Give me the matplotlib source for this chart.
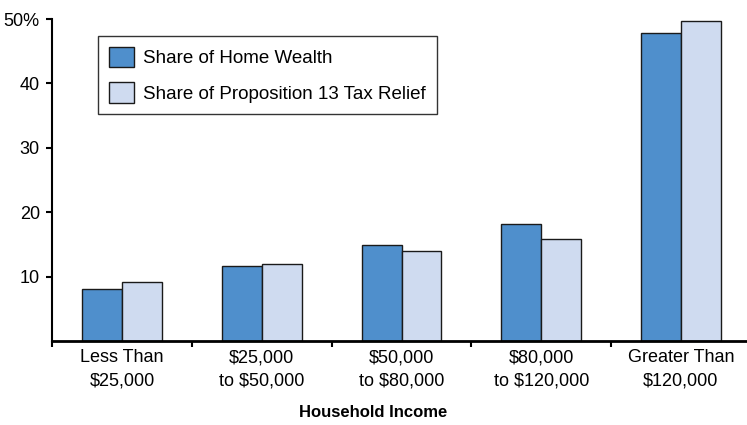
import matplotlib.pyplot as plt
import numpy as np

categories = ["Less Than\n$25,000", "$25,000\nto $50,000", "$50,000\nto $80,000",
              "$80,000\nto $120,000", "Greater Than\n$120,000"]
home_wealth = [8.1, 11.7, 14.9, 18.2, 47.8]
tax_relief = [9.2, 12.0, 13.9, 15.8, 49.7]
yticks = [10, 20, 30, 40, 50]
ytick_labels = ["10", "20", "30", "40", "50%"]

plt.rcParams["font.family"] = ["Liberation Sans", "DejaVu Sans"]

fig = plt.figure(figsize=(7.47, 4.25), dpi=100)
ax = fig.add_axes([0.07, 0.198, 0.935, 0.757])

x = np.arange(len(categories))
w = 0.285
ax.bar(x - w / 2, home_wealth, w, color="#4f8fcc", edgecolor="#1a1a1a",
       linewidth=1.0, label="Share of Home Wealth")
ax.bar(x + w / 2, tax_relief, w, color="#cfdbf0", edgecolor="#1a1a1a",
       linewidth=1.0, label="Share of Proposition 13 Tax Relief")

ax.set_xlim(-0.5, 4.5)
ax.set_ylim(0, 50)
ax.set_yticks(yticks)
ax.set_yticklabels(ytick_labels, fontsize=13)
ax.set_xticks(x)
ax.set_xticklabels(categories, fontsize=13, linespacing=1.45)
ax.tick_params(axis="x", length=0, pad=6)
ax.set_xticks(np.arange(len(categories)) - 0.5, minor=True)
ax.tick_params(axis="x", which="minor", length=4, width=1.5, direction="out")
ax.tick_params(axis="y", length=4, width=1.5, pad=5)

for s in ["top", "right"]:
    ax.spines[s].set_visible(False)
ax.spines["left"].set_linewidth(1.5)
ax.spines["bottom"].set_linewidth(2)

fig.text(0.5, 0.03, "Household Income", fontsize=12, fontweight="bold",
         ha="center", va="center")

leg = ax.legend(loc="upper left", bbox_to_anchor=(0.052, 0.978), fontsize=13.5,
                frameon=True, fancybox=False, handlelength=1.3, handleheight=1.3,
                borderpad=0.6, labelspacing=0.8, handletextpad=0.5)
leg.get_frame().set_edgecolor("black")
leg.get_frame().set_linewidth(1.0)

fig.savefig("out.png", dpi=100)
